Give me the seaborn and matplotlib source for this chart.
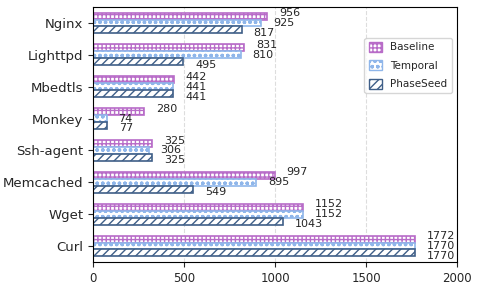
import pandas as pd
import matplotlib
matplotlib.use("Agg")
import matplotlib.pyplot as plt
import seaborn as sns

programs = ["Nginx", "Lighttpd", "Mbedtls", "Monkey", "Ssh-agent", "Memcached", "Wget", "Curl"]
methods = ["Baseline", "Temporal", "PhaseSeed"]
baseline = [956, 831, 442, 280, 325, 997, 1152, 1772]
temporal = [925, 810, 441, 74, 306, 895, 1152, 1770]
phaseseed = [817, 495, 441, 77, 325, 549, 1043, 1770]

colors = {"Baseline": "#b86cc8", "Temporal": "#8fb6ea", "PhaseSeed": "#3f5f88"}
hatches = {"Baseline": "++++", "Temporal": "ooo", "PhaseSeed": "////"}

df = pd.DataFrame({
    "program": programs * 3,
    "method": [m for m in methods for _ in programs],
    "value": baseline + temporal + phaseseed,
})

sns.set_style("ticks")
plt.rcParams['font.family'] = ['DejaVu Sans']
plt.rcParams['hatch.linewidth'] = 1.0

fig, ax = plt.subplots(figsize=(4.78, 2.93), dpi=100)
sns.barplot(data=df, x="value", y="program", hue="method", order=programs,
            hue_order=methods, orient="h", width=0.65, ax=ax, legend=True)

for i, (cont, m) in enumerate(zip(ax.containers, methods)):
    for bar in cont:
        bar.set_facecolor("white")
        bar.set_edgecolor(colors[m])
        bar.set_hatch(hatches[m])
        bar.set_linewidth(1.2)
    # labels spread a bit wider than the bars themselves
    vals = df[df["method"] == m]["value"].tolist()
    for j, v in enumerate(vals):
        ax.text(v + 65, j + (i - 1) * 0.31, str(v), fontsize=8,
                va="center", ha="left")

handles, labels = ax.get_legend_handles_labels()
for h, m in zip(handles, methods):
    h.set_facecolor("white")
    h.set_edgecolor(colors[m])
    h.set_hatch(hatches[m])
ax.legend(handles, labels, loc="upper right", bbox_to_anchor=(1.0, 0.9),
          fontsize=7.5, frameon=True, framealpha=0.8,
          labelspacing=0.75, handlelength=1.3, handleheight=1.1)

ax.set_xlim(0, 2000)
ax.set_xticks([0, 500, 1000, 1500, 2000])
ax.grid(axis="x", linestyle="--", color="#dddddd", linewidth=0.8)
ax.set_axisbelow(True)
ax.set_xlabel("")
ax.set_ylabel("")
ax.tick_params(axis="y", labelsize=9.5)
ax.tick_params(axis="x", labelsize=8.5)
for s in ax.spines.values():
    s.set_visible(True)
    s.set_color("black")

fig.subplots_adjust(left=0.195, right=0.956, top=0.976, bottom=0.106)
fig.savefig("out.png", dpi=100)
